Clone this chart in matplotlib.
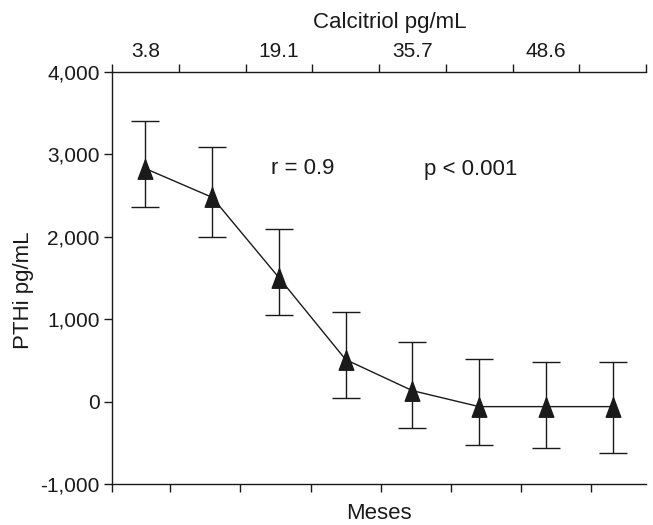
import matplotlib
matplotlib.use("Agg")
import matplotlib.pyplot as plt
import numpy as np

months = [1, 2, 3, 4, 5, 6, 7, 8]
pth = [2828, 2479, 1505, 510, 133, -61, -61, -61]
err_upper = [582, 607, 595, 582, 587, 583, 546, 546]
err_lower = [461, 485, 449, 461, 457, 461, 497, 558]
bottom_ticks = [0.0, 0.874, 1.925, 2.975, 4.024, 5.079, 6.127, 7.18]
calcitriol_labels = ["3.8", "19.1", "35.7", "48.6"]
calcitriol_label_pos = [0.5, 2.5, 4.5, 6.5]
y_ticks = [-1000, 0, 1000, 2000, 3000, 4000]

plt.rcParams['font.family'] = ['Liberation Sans', 'DejaVu Sans']
W, H = 653, 525
L, R, T, B = 112, 646, 72, 484
fig = plt.figure(figsize=(W / 100, H / 100), dpi=100)
ax = fig.add_axes([L / W, 1 - B / H, (R - L) / W, (B - T) / H])

col = '#1a1a1a'
fs_tick = 15
fs_lab = 16
tri = [(0, 1), (-0.75, -1), (0.75, -1), (0, 1)]
xpos = [m - 0.5 for m in months]
ax.errorbar(xpos, pth, yerr=[err_lower, err_upper], color=col, lw=1.0,
            elinewidth=1.0, capsize=10, capthick=1.0,
            marker=tri, markersize=14, markerfacecolor=col, markeredgecolor=col)

ax.set_xlim(0, 8)
ax.set_ylim(-1000, 4000)
ax.set_xticks(bottom_ticks)
ax.set_xticklabels([])
ax.set_yticks(y_ticks)
ax.set_yticklabels([f"{v:,}" for v in y_ticks])
for s in ['right', 'top']:
    ax.spines[s].set_visible(False)
for s in ['left', 'bottom']:
    ax.spines[s].set_color(col)
    ax.spines[s].set_linewidth(1.0)
ax.tick_params(axis='both', direction='out', length=6, width=1.0, color=col,
               labelsize=fs_tick, labelcolor=col, pad=3)
ax.set_xlabel("Meses", fontsize=fs_lab, color=col, labelpad=5)
ax.set_ylabel("PTHi pg/mL", fontsize=fs_lab, color=col)
ax.yaxis.set_label_coords((34 - L) / (R - L), (B - 290) / (B - T))

fig.text(302.5 / W, 1 - 169 / H, "r = 0.9", fontsize=fs_lab, color=col,
         ha='center', va='center')
fig.text(470.5 / W, 1 - 169 / H, "p < 0.001", fontsize=fs_lab, color=col,
         ha='center', va='center')
fig.text(390 / W, 1 - 28 / H, "Calcitriol pg/mL", fontsize=fs_lab, color=col,
         ha='center', va='baseline')

top = ax.twiny()
top.set_xlim(0, 8)
top.set_xticks(np.arange(0, 9))
top.set_xticklabels([])
top.set_xticks(calcitriol_label_pos, minor=True)
top.set_xticklabels(calcitriol_labels, minor=True)
top.tick_params(axis='x', which='minor', length=0, labelsize=fs_tick, labelcolor=col, pad=8)
top.tick_params(axis='x', which='major', direction='out', length=6, width=1.0, color=col)
for s in ['right', 'left', 'bottom']:
    top.spines[s].set_visible(False)
top.spines['top'].set_color(col)
top.spines['top'].set_linewidth(1.0)

fig.savefig("out.png", dpi=100)
